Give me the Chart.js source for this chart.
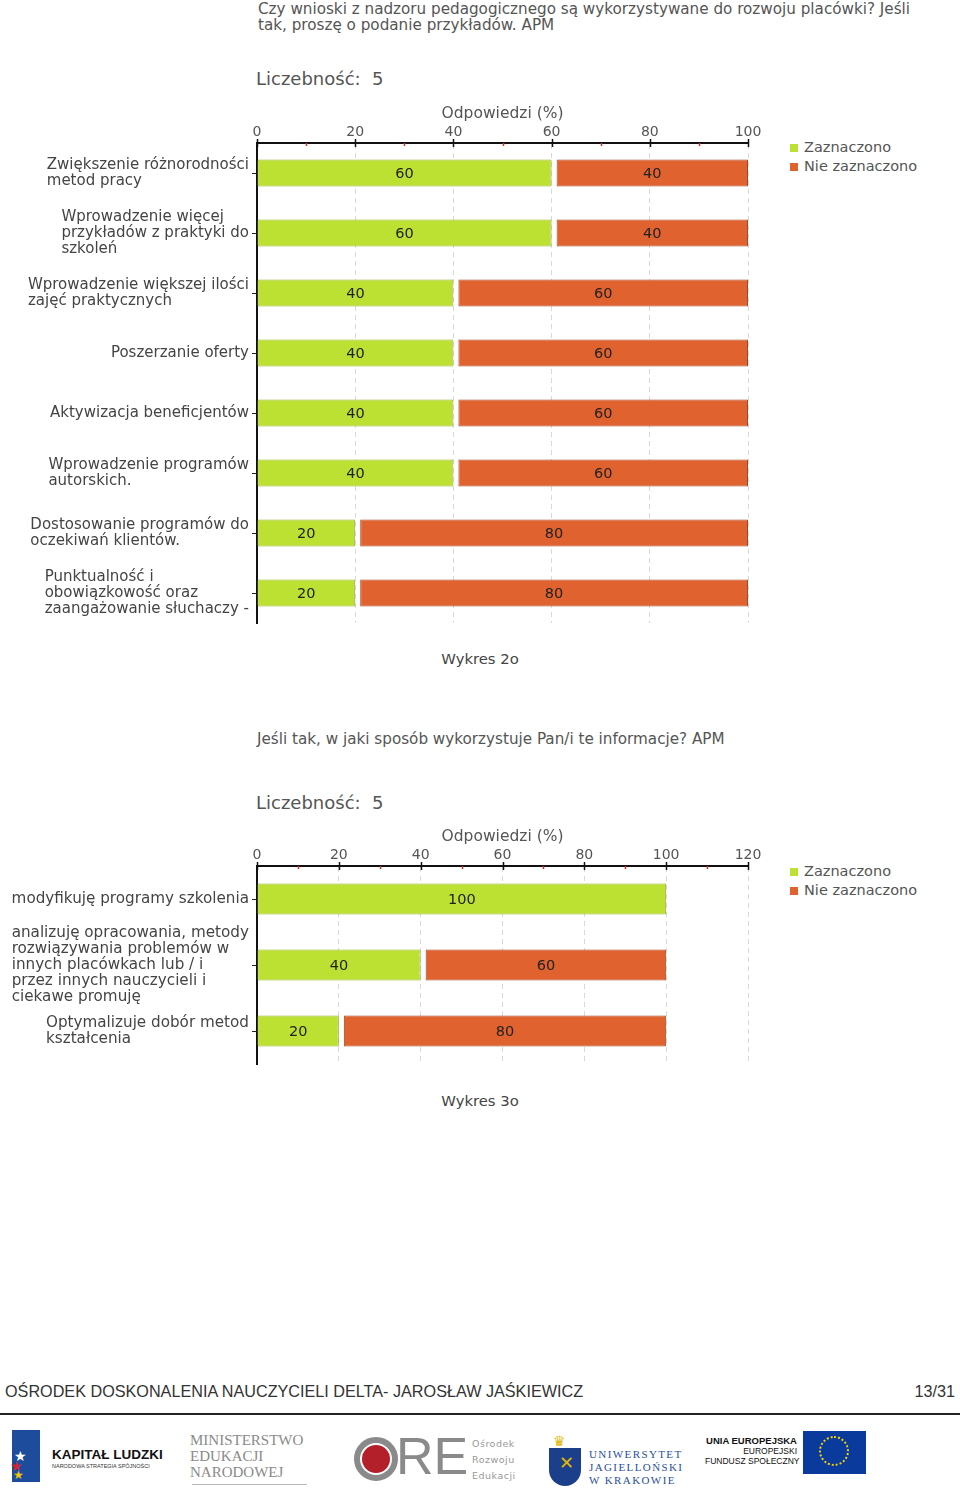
<!DOCTYPE html>
<html lang="pl">
<head>
<meta charset="utf-8">
<script src="https://cdn.jsdelivr.net/npm/chart.js@4/dist/chart.umd.min.js"></script>
<style>
  html,body{margin:0;padding:0;background:#fff;}
  body{width:960px;height:1503px;position:relative;overflow:hidden;font-family:"DejaVu Sans",Verdana,sans-serif;color:#555;}
  .abs{position:absolute;white-space:pre;}
  .title{font-size:15.2px;line-height:16px;color:#555;}
  .count{font-size:18px;color:#555;}
  .legend{font-size:14.5px;color:#555;line-height:19px;}
  .legend span.sw{display:inline-block;width:8px;height:8px;margin-right:6px;vertical-align:0px;}
  .caption{font-size:14.8px;color:#444;width:960px;text-align:center;}
  .wrap{position:absolute;left:0;width:960px;}
  .footer{font-family:"Liberation Sans",Arial,sans-serif;font-size:16.2px;color:#333;}
</style>
</head>
<body>
<script>
// ---------- DATA ----------
const chart1Title = ["Czy wnioski z nadzoru pedagogicznego są wykorzystywane do rozwoju placówki? Jeśli", "tak, proszę o podanie przykładów. APM"];
const chart1Categories = [
  ["Zwiększenie różnorodności", "metod pracy"],
  ["Wprowadzenie więcej", "przykładów z praktyki do", "szkoleń"],
  ["Wprowadzenie większej ilości", "zajęć praktycznych"],
  "Poszerzanie oferty",
  "Aktywizacja beneficjentów",
  ["Wprowadzenie programów", "autorskich."],
  ["Dostosowanie programów do", "oczekiwań klientów."],
  ["Punktualność i", "obowiązkowość oraz", "zaangażowanie słuchaczy -"]
];
const chart1Zaznaczono = [60, 60, 40, 40, 40, 40, 20, 20];
const chart1NieZaznaczono = [40, 40, 60, 60, 60, 60, 80, 80];
const chart1Max = 100;

const chart2Title = ["Jeśli tak, w jaki sposób wykorzystuje Pan/i te informacje? APM"];
const chart2Categories = [
  "modyfikuję programy szkolenia",
  ["analizuję opracowania, metody", "rozwiązywania problemów w", "innych placówkach lub / i", "przez innych nauczycieli i", "ciekawe promuję"],
  ["Optymalizuje dobór metod", "kształcenia"]
];
const chart2Zaznaczono = [100, 40, 20];
const chart2NieZaznaczono = [0, 60, 80];
const chart2Max = 120;

const tickStep = 20;
const countLabel = "Liczebność:  5";
const axisTitle = "Odpowiedzi (%)";
const seriesNames = ["Zaznaczono", "Nie zaznaczono"];
const captions = ["Wykres 2o", "Wykres 3o"];
</script>

<!-- Chart 1 texts -->
<div class="abs title" id="t1" style="left:258px;top:1px;"></div>
<div class="abs count" style="left:256px;top:68px;" id="c1"></div>
<div class="abs legend" style="left:790px;top:138px;" id="l1"></div>
<div class="wrap" style="top:100px;height:530px;"><canvas id="chart1"></canvas></div>
<div class="abs caption" style="left:0;top:650px;" id="cap1"></div>

<!-- Chart 2 texts -->
<div class="abs title" id="t2" style="left:257px;top:731px;"></div>
<div class="abs count" style="left:256px;top:792px;" id="c2"></div>
<div class="abs legend" style="left:790px;top:862px;" id="l2"></div>
<div class="wrap" style="top:823px;height:248px;"><canvas id="chart2"></canvas></div>
<div class="abs caption" style="left:0;top:1092px;" id="cap2"></div>

<!-- Footer -->
<div class="abs footer" style="left:5px;top:1382px;">OŚRODEK DOSKONALENIA NAUCZYCIELI DELTA- JAROSŁAW JAŚKIEWICZ</div>
<div class="abs footer" style="right:5px;top:1382px;">13/31</div>
<div class="abs" style="left:0;top:1413px;width:960px;height:2px;background:#222;"></div>

<!-- logos (approximations) -->
<div class="abs" style="left:12px;top:1430px;width:28px;height:52px;background:#1d4c9c;"></div>
<div class="abs" style="left:14px;top:1448px;font-size:14px;color:#fff;">★</div>
<div class="abs" style="left:10px;top:1458px;font-size:14px;color:#d6242e;">★</div>
<div class="abs" style="left:13px;top:1468px;font-size:12px;color:#f3c500;">★</div>
<div class="abs" style="left:52px;top:1447px;font-family:'Liberation Sans',Arial,sans-serif;font-weight:bold;font-size:13.5px;color:#111;">KAPITAŁ LUDZKI</div>
<div class="abs" style="left:52px;top:1463px;font-family:'Liberation Sans',Arial,sans-serif;font-size:5.5px;color:#333;">NARODOWA STRATEGIA SPÓJNOŚCI</div>

<div class="abs" style="left:190px;top:1432px;font-family:'Liberation Serif','DejaVu Serif',serif;font-size:15px;line-height:16px;color:#8a8a8a;">MINISTERSTWO<br>EDUKACJI<br>NARODOWEJ</div>
<div class="abs" style="left:192px;top:1484px;width:115px;height:1px;background:#bbb;"></div>

<div class="abs" style="left:354px;top:1437px;width:32px;height:32px;border:6px solid #8a8a8a;border-radius:50%;"></div>
<div class="abs" style="left:362px;top:1445px;width:28px;height:28px;background:#b3202a;border-radius:50%;"></div>
<div class="abs" style="left:396px;top:1428px;font-family:'Liberation Sans',Arial,sans-serif;font-size:52px;line-height:56px;color:#8a8a8a;">RE</div>
<div class="abs" style="left:472px;top:1436px;font-family:'DejaVu Sans',sans-serif;font-size:9.5px;line-height:16px;color:#999;letter-spacing:0.5px;">Ośrodek<br>Rozwoju<br>Edukacji</div>

<div class="abs" style="left:553px;top:1433px;font-size:14px;color:#e0b800;">♛</div>
<div class="abs" style="left:549px;top:1448px;width:32px;height:38px;background:#1c3f8c;border-radius:0 0 16px 16px;"></div>
<div class="abs" style="left:559px;top:1452px;font-size:18px;color:#e0b800;">✕</div>
<div class="abs" style="left:589px;top:1448px;font-family:'Liberation Serif','DejaVu Serif',serif;font-size:11px;line-height:13px;color:#2a4f9c;letter-spacing:1.4px;">UNIWERSYTET<br>JAGIELLOŃSKI<br>W KRAKOWIE</div>

<div class="abs" style="left:705px;top:1436px;width:92px;text-align:right;font-family:'Liberation Sans',Arial,sans-serif;font-size:8.5px;line-height:10px;color:#111;"><b style="font-size:9.5px;">UNIA EUROPEJSKA</b><br>EUROPEJSKI<br>FUNDUSZ SPOŁECZNY</div>
<div class="abs" style="left:803px;top:1431px;width:63px;height:43px;background:#0a3a9c;"></div>
<div class="abs" style="left:819px;top:1436px;width:30px;height:30px;border:2px dotted #f5d400;border-radius:50%;box-sizing:border-box;"></div>

<script>
// fill text
document.getElementById('t1').innerHTML = chart1Title.join('<br>');
document.getElementById('t2').innerHTML = chart2Title.join('<br>');
document.getElementById('c1').textContent = countLabel;
document.getElementById('c2').textContent = countLabel;
document.getElementById('cap1').textContent = captions[0];
document.getElementById('cap2').textContent = captions[1];

const GREEN = '#bde132';
const GREEN_B = '#98b52a';
const ORANGE = '#e0622e';
const ORANGE_B = '#a9461f';

function legendHTML(){
  return '<div><span class="sw" style="background:'+GREEN+'"></span>'+seriesNames[0]+'</div>' +
         '<div><span class="sw" style="background:'+ORANGE+'"></span>'+seriesNames[1]+'</div>';
}
document.getElementById('l1').innerHTML = legendHTML();
document.getElementById('l2').innerHTML = legendHTML();

// plugin: gap between stacked segments
const gapPlugin = {
  id: 'segGap',
  afterDatasetsUpdate(chart){
    const meta = chart.getDatasetMeta(1);
    meta.data.forEach((el, i) => {
      if (chart.data.datasets[1].data[i] > 0) el.base = el.base + 5;
    });
  }
};

// plugin: value labels, y-labels, axis ticks
const decoPlugin = {
  id: 'deco',
  afterDatasetsDraw(chart){
    const ctx = chart.ctx;
    ctx.save();
    ctx.font = '14.5px "DejaVu Sans"';
    ctx.fillStyle = '#222';
    ctx.textAlign = 'center';
    ctx.textBaseline = 'middle';
    chart.data.datasets.forEach((ds, di) => {
      chart.getDatasetMeta(di).data.forEach((el, i) => {
        const v = ds.data[i];
        if (!v) return;
        ctx.fillText(String(v), (el.x + el.base) / 2, el.y + 1);
      });
    });
    ctx.restore();
  },
  afterDraw(chart, args, opts){
    const ctx = chart.ctx;
    const xs = chart.scales.x, ys = chart.scales.y;
    const area = chart.chartArea;
    ctx.save();
    // x ticks
    const top = area.top;
    for (let v = 0; v <= xs.max + 0.001; v += tickStep / 2) {
      const px = Math.round(xs.getPixelForValue(v)) + 0.5;
      const major = Math.abs(v % tickStep) < 0.001;
      ctx.strokeStyle = major ? '#111' : '#d0302a';
      ctx.lineWidth = 1.5;
      ctx.beginPath();
      if (major) { ctx.moveTo(px, top - 4); ctx.lineTo(px, top + 4); }
      else { ctx.moveTo(px, top); ctx.lineTo(px, top + 3); }
      ctx.stroke();
    }
    // y ticks + labels
    ctx.font = opts.font;
    ctx.fillStyle = '#444';
    ctx.textAlign = 'left';
    ctx.textBaseline = 'middle';
    chart.data.labels.forEach((lab, i) => {
      const py = ys.getPixelForValue(i);
      ctx.strokeStyle = '#222';
      ctx.lineWidth = 1;
      ctx.beginPath();
      ctx.moveTo(area.left - 5, Math.round(py) + 0.5);
      ctx.lineTo(area.left, Math.round(py) + 0.5);
      ctx.stroke();
      const lines = Array.isArray(lab) ? lab : [lab];
      const w = Math.max(...lines.map(l => ctx.measureText(l).width));
      const lh = opts.lineHeight;
      lines.forEach((l, j) => {
        ctx.fillText(l, opts.labelRight - w, py + (j - (lines.length - 1) / 2) * lh);
      });
    });
    ctx.restore();
  }
};

function makeChart(id, cats, a, b, max, barFrac, labelFont, labelLH){
  return new Chart(document.getElementById(id), {
    type: 'bar',
    data: {
      labels: cats,
      datasets: [
        { label: seriesNames[0], data: a, backgroundColor: GREEN, borderColor: GREEN_B,
          borderWidth: 1, borderSkipped: false, categoryPercentage: 1, barPercentage: barFrac },
        { label: seriesNames[1], data: b, backgroundColor: ORANGE, borderColor: ORANGE_B,
          borderWidth: c => (c.raw ? 1 : 0), borderSkipped: false, categoryPercentage: 1, barPercentage: barFrac }
      ]
    },
    options: {
      indexAxis: 'y',
      responsive: true,
      maintainAspectRatio: false,
      animation: false,
      events: [],
      layout: { padding: { left: 257, right: 212, top: 0, bottom: 7 } },
      plugins: {
        legend: { display: false },
        tooltip: { enabled: false },
        deco: { labelRight: 249, lineHeight: labelLH, font: labelFont }
      },
      scales: {
        x: {
          position: 'top',
          stacked: true,
          min: 0, max: max,
          afterFit: s => { s.height = 43; },
          ticks: { stepSize: tickStep, padding: 2, color: '#555', font: { family: 'DejaVu Sans', size: 14 } },
          title: { display: true, text: axisTitle, color: '#555', padding: { top: 5, bottom: 2 },
                   font: { family: 'DejaVu Sans', size: 15.5 } },
          grid: { color: '#d8d8d8', lineWidth: 1, drawTicks: false },
          border: { display: true, color: '#111', width: 2, dash: [5, 4] }
        },
        y: {
          stacked: true,
          afterFit: s => { s.width = 0; },
          ticks: { display: false },
          grid: { display: false },
          border: { display: true, color: '#111', width: 2 }
        }
      }
    },
    plugins: [gapPlugin, decoPlugin]
  });
}

makeChart('chart1', chart1Categories, chart1Zaznaczono, chart1NieZaznaczono, chart1Max, 0.45, '15px "DejaVu Sans"', 16);
makeChart('chart2', chart2Categories, chart2Zaznaczono, chart2NieZaznaczono, chart2Max, 0.47, '15.2px "DejaVu Sans"', 15.8);
</script>
</body>
</html>
